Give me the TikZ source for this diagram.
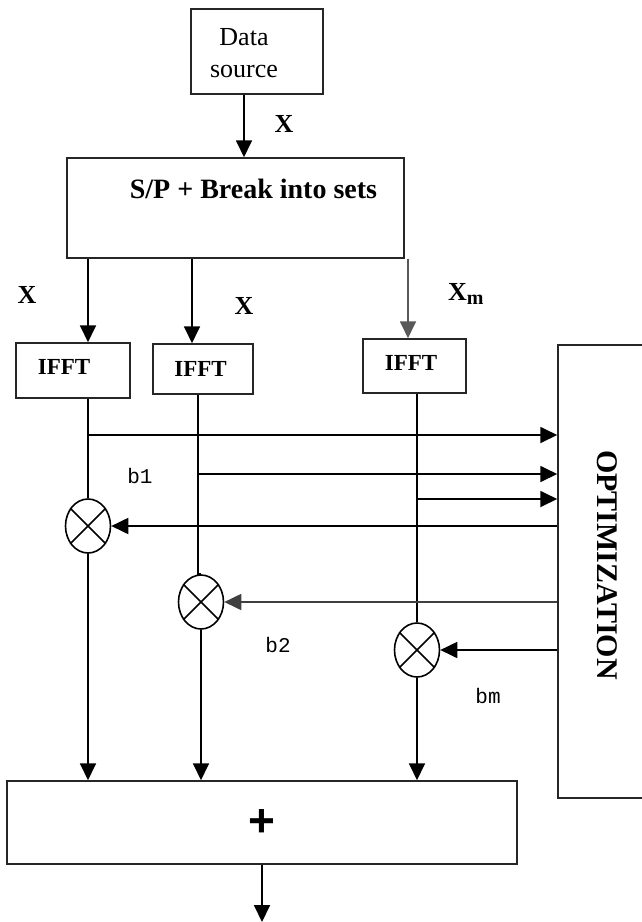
\documentclass[tikz,border=0pt]{standalone}
\usepackage{fontspec}
\setmainfont{Liberation Serif}
\newfontfamily\monof{Liberation Mono}
\newfontfamily\sansf{Liberation Sans}
\usetikzlibrary{arrows.meta,shapes.geometric}
\begin{document}
\begin{tikzpicture}[x=1pt,y=-1pt,
  box/.style={draw=black!85, line width=1.5pt, inner sep=0pt},
  conn/.style={line width=1.8pt},
  arr/.style={conn, -{Triangle[length=17pt,width=16pt]}},
  mult/.style={draw, ellipse, minimum width=45pt, minimum height=54pt, line width=1.6pt, inner sep=0pt},
  btxt/.style={inner sep=0pt, font=\bfseries\fontsize{23}{27}\selectfont},
  lbl/.style={inner sep=0pt, font=\bfseries\fontsize{26}{30}\selectfont},
  blbl/.style={inner sep=0pt, font=\monof\fontsize{21}{24}\selectfont}]
\useasboundingbox (0,0) rectangle (642,922);
% boxes
\node[box, minimum width=132pt, minimum height=85pt] (ds) at (257,51.5) {};
\node[inner sep=0pt, align=center, font=\fontsize{26}{32}\selectfont] (dstext) at (244,53) {Data\\source};
\node[box, minimum width=337pt, minimum height=100pt] (sp) at (235.5,208) {};
\node[inner sep=0pt, font=\bfseries\fontsize{28}{32}\selectfont] (sptext) at (253.5,189) {S/P + Break into sets};
\node[box, minimum width=114pt, minimum height=55pt] (i1) at (73,370.5) {};
\node[btxt] (i1t) at (64,367) {IFFT};
\node[box, minimum width=100pt, minimum height=50pt] (i2) at (203,369) {};
\node[btxt] (i2t) at (200.5,369) {IFFT};
\node[box, minimum width=103pt, minimum height=54pt] (i3) at (414.5,366) {};
\node[btxt] (i3t) at (411,363) {IFFT};
\node[box, minimum width=102pt, minimum height=453pt] (opt) at (609,571.5) {};
\node[inner sep=0pt, rotate=-90, font=\bfseries\fontsize{30}{34}\selectfont] (optt) at (607.5,565) {OPTIMIZATION};
\node[box, minimum width=510pt, minimum height=83pt] (plus) at (262,822.5) {};
\node[inner sep=0pt, font=\sansf\bfseries\fontsize{46}{50}\selectfont] (plust) at (262,823) {+};
% multipliers
\node[mult] (m1) at (88,526) {};
\node[mult] (m2) at (201,602) {};
\node[mult] (m3) at (417,650) {};
\foreach \m in {m1,m2,m3}{
  \draw[line width=1.6pt] (\m.45) -- (\m.225);
  \draw[line width=1.6pt] (\m.135) -- (\m.315);
}
% labels
\node[lbl] (xa) at (284,124) {X};
\node[lbl] (x1) at (27,295) {X};
\node[lbl] (x2) at (244,306) {X};
\node[lbl, anchor=west] (xm) at (448,294) {X\textsubscript{\fontsize{20}{24}\selectfont m}};
\node[blbl] (b1) at (140,476) {b1};
\node[blbl] (b2) at (278,645) {b2};
\node[blbl] (bm) at (488,696) {bm};
% coordinates
\coordinate (cD) at (244,0);
\coordinate (c1) at (88,0);
\coordinate (c2) at (192,0);
\coordinate (c3) at (408,0);
\coordinate (t1) at (88,435);
\coordinate (t2) at (198,474);
\coordinate (t3) at (417,499);
\coordinate (out) at (262,922);
% connectors
\draw[arr] (ds.south -| cD) -- (sp.north -| cD);
\draw[arr] (sp.south -| c1) -- (i1.north -| c1);
\draw[arr] (sp.south -| c2) -- (i2.north -| c2);
\draw[arr, draw=black!65, fill=black] (sp.south -| c3) -- (i3.north -| c3);
\draw[conn] (i1.south -| m1) -- (m1.north);
\draw[conn] (i2.south -| t2) -- (t2 |- m2.north) -- (m2.north);
\draw[conn] (i3.south -| m3) -- (m3.north);
\draw[arr] (m1.south) -- (plus.north -| m1);
\draw[arr] (m2.south) -- (plus.north -| m2);
\draw[arr] (m3.south) -- (plus.north -| m3);
\draw[arr] (plus.south -| out) -- (out);
\draw[arr] (t1) -- (t1 -| opt.west);
\draw[arr] (t2) -- (t2 -| opt.west);
\draw[arr] (t3) -- (t3 -| opt.west);
\draw[arr] (opt.west |- m1.east) -- (m1.east);
\draw[arr, draw=black!75, fill=black] (opt.west |- m2.east) -- (m2.east);
\draw[arr] (opt.west |- m3.east) -- (m3.east);
\end{tikzpicture}
\end{document}
